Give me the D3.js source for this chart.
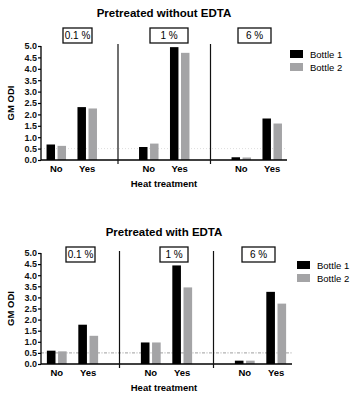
<!DOCTYPE html>
<html>
<head>
<meta charset="utf-8">
<script src="https://cdn.jsdelivr.net/npm/d3@7"></script>
<style>
  body { margin: 0; background: #fff; }
  text { font-family: "Liberation Sans", Arial, sans-serif; }
</style>
</head>
<body>
<div id="chart"></div>
<script>
// Data
var concentrations = ["0.1 %", "1 %", "6 %"];
var heatLevels = ["No", "Yes"];
var bottles = ["Bottle 1", "Bottle 2"];
var yTicks = [0, 0.5, 1, 1.5, 2, 2.5, 3, 3.5, 4, 4.5, 5];
var cutoff = 0.5;

// values per concentration, [No, Yes], one array per bottle
var withoutBottle1 = [[0.68, 2.32], [0.57, 4.95], [0.12, 1.82]];
var withoutBottle2 = [[0.62, 2.26], [0.72, 4.7], [0.11, 1.6]];
var withBottle1 = [[0.6, 1.77], [0.97, 4.44], [0.15, 3.25]];
var withBottle2 = [[0.57, 1.27], [0.97, 3.45], [0.15, 2.72]];

var width = 352, height = 397;
var colors = ["#000000", "#a4a4a6"];

var svg = d3.select("#chart").append("svg")
    .attr("width", width)
    .attr("height", height);

function drawPanel(opt) {
    var g = svg.append("g");

    var y = d3.scaleLinear().domain([0, 5]).range([opt.base, opt.top]);

    // groups (concentrations)
    var xGroup = d3.scaleBand().domain(concentrations).range(opt.groupRange);
    var xHeat = d3.scaleBand().domain(heatLevels).range([0, xGroup.bandwidth()]).paddingInner(0.37).paddingOuter(0.68);
    var xBottle = d3.scaleBand().domain(bottles).range([0, xHeat.bandwidth()]).paddingInner(0.23);

    // title
    g.append("text")
        .attr("x", 164).attr("y", opt.titleY)
        .attr("text-anchor", "middle")
        .style("font-size", "11.5px").style("font-weight", "bold")
        .text(opt.title);

    // cutoff line
    g.append("line")
        .attr("x1", opt.axisX).attr("x2", opt.axisEnd)
        .attr("y1", y(cutoff)).attr("y2", y(cutoff))
        .attr("stroke", opt.cutColor).attr("stroke-width", 0.8)
        .attr("stroke-dasharray", opt.cutDash);

    // bars
    var rows = [];
    concentrations.forEach(function (c, ci) {
        heatLevels.forEach(function (h, hi) {
            rows.push({ c: c, h: h, b: 0, v: opt.values[0][ci][hi] });
            rows.push({ c: c, h: h, b: 1, v: opt.values[1][ci][hi] });
        });
    });
    g.selectAll(".bar").data(rows).enter().append("rect")
        .attr("class", "bar")
        .attr("x", function (d) { return xGroup(d.c) + xHeat(d.h) + xBottle(bottles[d.b]); })
        .attr("width", xBottle.bandwidth())
        .attr("y", function (d) { return y(d.v); })
        .attr("height", function (d) { return opt.base - y(d.v); })
        .attr("fill", function (d) { return colors[d.b]; });

    // y axis
    var yAxis = d3.axisLeft(y).tickValues(yTicks).tickSize(3).tickFormat(d3.format(".1f"));
    var ya = g.append("g").attr("transform", "translate(" + opt.axisX + ",0)").call(yAxis);
    ya.select(".domain").attr("stroke-width", 1.3).attr("d", "M0," + opt.base + "V" + opt.top);
    ya.selectAll(".tick line").attr("stroke-width", 1.2);
    ya.selectAll("text").attr("x", -4).style("font-size", "9px").style("font-weight", "bold").attr("fill", "#111");

    // x axis line
    g.append("line")
        .attr("x1", opt.axisX).attr("x2", opt.axisEnd)
        .attr("y1", opt.base).attr("y2", opt.base)
        .attr("stroke", "#000").attr("stroke-width", 1.3);

    // separators between groups
    concentrations.slice(1).forEach(function (c) {
        g.append("line")
            .attr("x1", xGroup(c)).attr("x2", xGroup(c))
            .attr("y1", opt.top - 2).attr("y2", opt.base + 4)
            .attr("stroke", "#111").attr("stroke-width", 1.2);
    });

    // x tick labels
    concentrations.forEach(function (c) {
        heatLevels.forEach(function (h) {
            g.append("text")
                .attr("x", xGroup(c) + xHeat(h) + xHeat.bandwidth() / 2)
                .attr("y", opt.base + 12)
                .attr("text-anchor", "middle")
                .style("font-size", "9.5px").style("font-weight", "bold")
                .text(h);
        });
    });

    // concentration boxes
    concentrations.forEach(function (c, i) {
        var b = opt.boxes[i];
        g.append("rect")
            .attr("x", b[0]).attr("y", opt.boxY)
            .attr("width", b[1] - b[0]).attr("height", 15)
            .attr("fill", "#fff").attr("stroke", "#111").attr("stroke-width", 1.3);
        g.append("text")
            .attr("x", (b[0] + b[1]) / 2).attr("y", opt.boxY + 11)
            .attr("text-anchor", "middle")
            .style("font-size", "10px")
            .text(c);
    });

    // axis titles
    g.append("text")
        .attr("transform", "translate(14," + (opt.top + opt.base) / 2 + ") rotate(-90)")
        .attr("text-anchor", "middle")
        .style("font-size", "9.5px").style("font-weight", "bold")
        .text("GM ODI");
    g.append("text")
        .attr("x", 164).attr("y", opt.base + 27)
        .attr("text-anchor", "middle")
        .style("font-size", "9.5px").style("font-weight", "bold")
        .text("Heat treatment");

    // legend
    bottles.forEach(function (b, i) {
        g.append("rect")
            .attr("x", opt.legendX).attr("y", opt.legendY + i * 13)
            .attr("width", 13).attr("height", 8)
            .attr("fill", colors[i]);
        g.append("text")
            .attr("x", opt.legendX + 20).attr("y", opt.legendY + i * 13 + 7.5)
            .style("font-size", "9.5px")
            .text(b);
    });
}

drawPanel({
    title: "Pretreated without EDTA",
    titleY: 17,
    top: 46, base: 160,
    axisX: 41, axisEnd: 287,
    groupRange: [25.5, 303],
    values: [withoutBottle1, withoutBottle2],
    cutColor: "#d4d4d4", cutDash: "1,2",
    boxes: [[63, 92], [150, 188], [238, 271]],
    boxY: 28,
    legendX: 290, legendY: 50
});

drawPanel({
    title: "Pretreated with EDTA",
    titleY: 236,
    top: 253, base: 364,
    axisX: 41, axisEnd: 292,
    groupRange: [25.5, 307.5],
    values: [withBottle1, withBottle2],
    cutColor: "#888", cutDash: "3,1.5,1,1.5",
    boxes: [[66, 95], [160, 188], [242, 275]],
    boxY: 247,
    legendX: 297, legendY: 261
});
</script>
</body>
</html>
